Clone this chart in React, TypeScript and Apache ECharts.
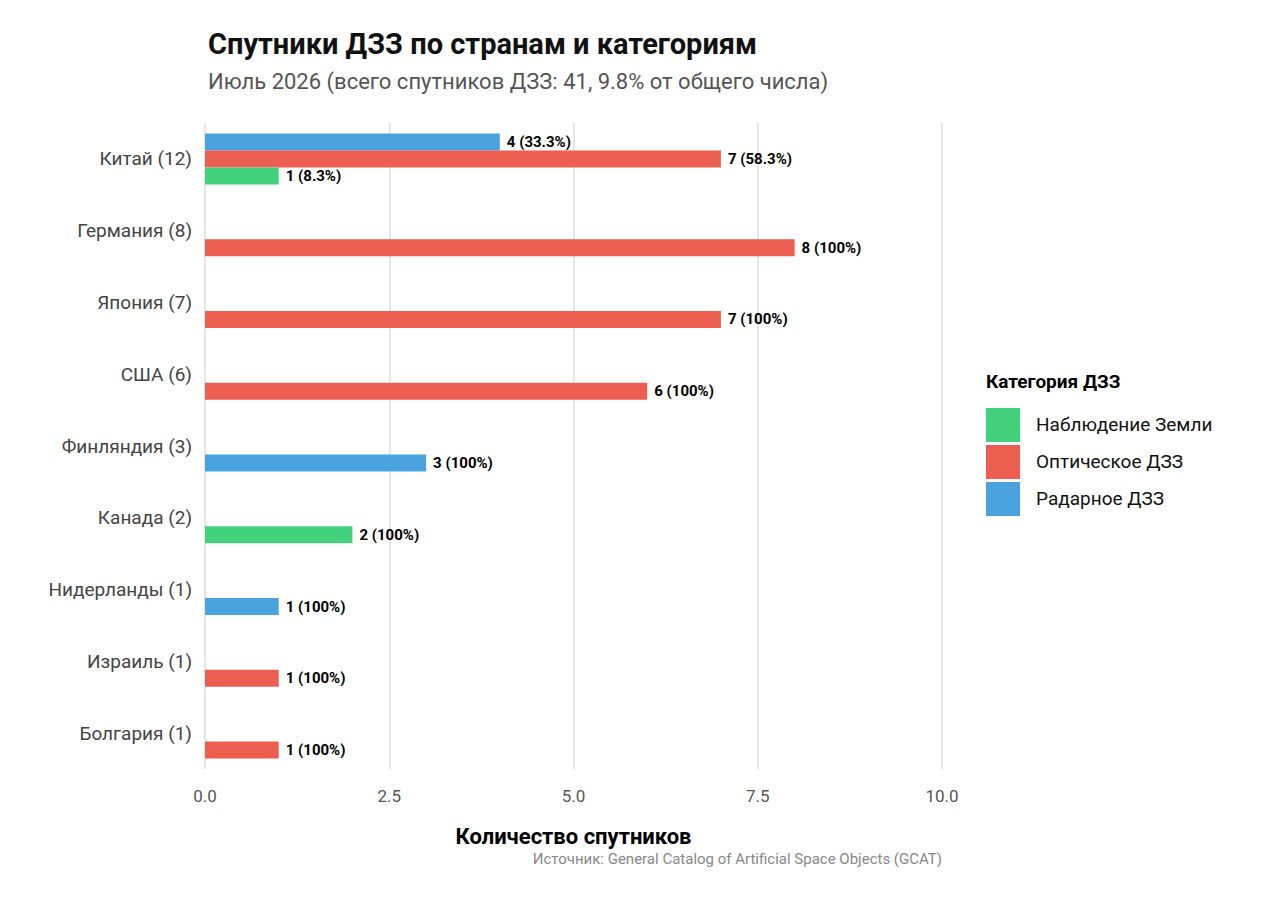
import { useEffect, useRef } from "react";
import * as echarts from "echarts";

const countries = ["Китай", "Германия", "Япония", "США", "Финляндия", "Канада", "Нидерланды", "Израиль", "Болгария"];
// per category: [earth, optical, radar]
const earthValues = [1, 0, 0, 0, 0, 2, 0, 0, 0];
const opticalValues = [7, 8, 7, 6, 0, 0, 0, 1, 1];
const radarValues = [4, 0, 0, 0, 3, 0, 1, 0, 0];
const xTicks = [0, 2.5, 5, 7.5, 10];

const categoryNames = ["Наблюдение Земли", "Оптическое ДЗЗ", "Радарное ДЗЗ"];
const categoryColors = ["#44d17e", "#eb5e50", "#4aa3df"];

const FONT = "Roboto, 'Noto Sans', sans-serif";

export default function App() {
  const ref = useRef<HTMLDivElement>(null);

  useEffect(() => {
    document.body.style.margin = "0";
    if (!ref.current) return;
    const chart = echarts.init(ref.current, undefined, { renderer: "svg" });

    const totals = countries.map((_, i) => earthValues[i] + opticalValues[i] + radarValues[i]);
    // slots: top, mid, bottom (ggplot dodge order: radar, optical, earth)
    const slots: any[][] = [[], [], []];
    countries.forEach((_, i) => {
      const present = [
        { v: radarValues[i], c: 2 },
        { v: opticalValues[i], c: 1 },
        { v: earthValues[i], c: 0 },
      ].filter((d) => d.v > 0);
      const start = 3 - present.length;
      for (let s = 0; s < 3; s++) slots[s].push(null);
      present.forEach((d, k) => {
        const pct = (d.v / totals[i]) * 100;
        const pctStr = pct === 100 ? "100%" : pct.toFixed(1) + "%";
        slots[start + k][i] = {
          value: d.v,
          itemStyle: { color: categoryColors[d.c] },
          label: { formatter: `${d.v} (${pctStr})` },
        };
      });
    });

    const legendGraphics: any[] = [
      {
        type: "text",
        left: 986,
        top: 372,
        style: { text: "Категория ДЗЗ", font: `bold 19px ${FONT}`, fill: "#000" },
      },
    ];
    categoryNames.forEach((n, k) => {
      legendGraphics.push({
        type: "rect",
        left: 986,
        top: 408 + k * 37,
        shape: { width: 34, height: 34 },
        style: { fill: categoryColors[k] },
      });
      legendGraphics.push({
        type: "text",
        left: 1036,
        top: 415 + k * 37,
        style: { text: n, font: `19px ${FONT}`, fill: "#111" },
      });
    });

    chart.setOption({
      animation: false,
      textStyle: { fontFamily: FONT },
      title: {
        text: "Спутники ДЗЗ по странам и категориям",
        subtext: "Июль 2026 (всего спутников ДЗЗ: 41, 9.8% от общего числа)",
        left: 203,
        top: 24,
        itemGap: 12,
        textStyle: { fontSize: 29, fontWeight: "bold", color: "#111", fontFamily: FONT },
        subtextStyle: { fontSize: 22, color: "#555", fontFamily: FONT },
      },
      grid: { left: 205, width: 737, top: 123, bottom: 133 },
      xAxis: {
        type: "value",
        min: 0,
        max: 10,
        interval: 2.5,
        axisLine: { show: false },
        axisTick: { show: false },
        splitLine: { lineStyle: { color: "#e6e6e6", width: 2 } },
        axisLabel: {
          color: "#555",
          fontSize: 17,
          margin: 18,
          formatter: (v: number) => (xTicks.includes(v) ? v.toFixed(1) : ""),
        },
        name: "Количество спутников",
        nameLocation: "middle",
        nameGap: 56,
        nameTextStyle: { fontSize: 22, fontWeight: "bold", color: "#000" },
      },
      yAxis: {
        type: "category",
        inverse: true,
        data: countries.map((c, i) => `${c} (${totals[i]})`),
        axisLine: { show: false },
        axisTick: { show: false },
        splitLine: { show: false },
        axisLabel: { color: "#444", fontSize: 19, margin: 13 },
      },
      series: slots.map((d) => ({
        type: "bar",
        data: d,
        barWidth: 17,
        barGap: "0%",
        label: {
          show: true,
          position: "right",
          distance: 7,
          color: "#000",
          fontSize: 15,
          fontWeight: "bold",
        },
      })),
      graphic: [
        ...legendGraphics,
        {
          type: "text",
          right: 338,
          top: 851,
          style: {
            text: "Источник: General Catalog of Artificial Space Objects (GCAT)",
            font: `15px ${FONT}`,
            fill: "#888",
          },
        },
      ],
    });
    return () => chart.dispose();
  }, []);

  return <div ref={ref} style={{ width: 1280, height: 902, background: "#fff" }} />;
}
